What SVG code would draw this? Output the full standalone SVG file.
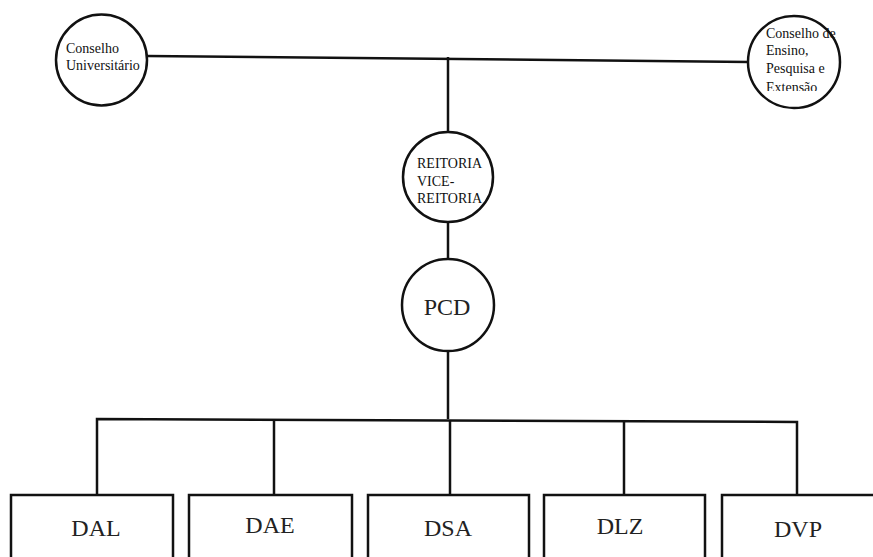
<svg xmlns="http://www.w3.org/2000/svg" width="873" height="557" viewBox="0 0 873 557">
<style>
.n{fill:#fff;stroke:#111;stroke-width:2.5}
.c{fill:none;stroke:#111;stroke-width:2.5}
.s{font-family:'Liberation Serif','Times New Roman','DejaVu Serif',serif;font-size:14px;fill:#111}
.b{font-family:'Liberation Serif','Times New Roman','DejaVu Serif',serif;font-size:24px;fill:#222;text-anchor:middle}
</style>
<defs>
<clipPath id="clipR"><rect x="740" y="10" width="120" height="81"/></clipPath>
</defs>
<rect width="873" height="557" fill="#fff"/>
<g id="connectors">
<path class="c" d="M147,56 L749,62"/>
<path class="c" d="M448,57 V132"/>
<path class="c" d="M448,222 V259"/>
<path class="c" d="M448,351 V419"/>
<path class="c" d="M97,495 V419 L797,422 V495"/>
<path class="c" d="M274,419.5 V495"/>
<path class="c" d="M450,420 V495"/>
<path class="c" d="M624,421 V495"/>
</g>
<g id="conselho-universitario">
<circle class="n" cx="101.5" cy="60" r="45.5"/>
<text class="s" x="66" y="53">Conselho</text>
<text class="s" x="66" y="70">Universitário</text>
</g>
<g id="conselho-ensino">
<circle class="n" cx="794" cy="62" r="46"/>
<g clip-path="url(#clipR)">
<text class="s" x="766" y="38">Conselho de</text>
<text class="s" x="766" y="55">Ensino,</text>
<text class="s" x="766" y="73">Pesquisa e</text>
<text class="s" x="766" y="92">Extensão</text>
</g>
</g>
<g id="reitoria">
<circle class="n" cx="448" cy="177" r="45"/>
<text class="s" x="417" y="168">REITORIA</text>
<text class="s" x="417" y="186">VICE-</text>
<text class="s" x="417" y="203">REITORIA</text>
</g>
<g id="pcd">
<circle class="n" cx="448" cy="305" r="46"/>
<text class="b" x="447" y="315">PCD</text>
</g>
<g id="dal">
<rect class="n" x="11" y="495" width="162" height="80"/>
<text class="b" x="96" y="536">DAL</text>
</g>
<g id="dae">
<rect class="n" x="189" y="495" width="163" height="80"/>
<text class="b" x="270" y="533">DAE</text>
</g>
<g id="dsa">
<rect class="n" x="368" y="495" width="161" height="80"/>
<text class="b" x="448" y="536">DSA</text>
</g>
<g id="dlz">
<rect class="n" x="544" y="495" width="161" height="80"/>
<text class="b" x="620" y="534">DLZ</text>
</g>
<g id="dvp">
<rect class="n" x="722" y="495" width="170" height="80"/>
<text class="b" x="798" y="537">DVP</text>
</g>
</svg>
